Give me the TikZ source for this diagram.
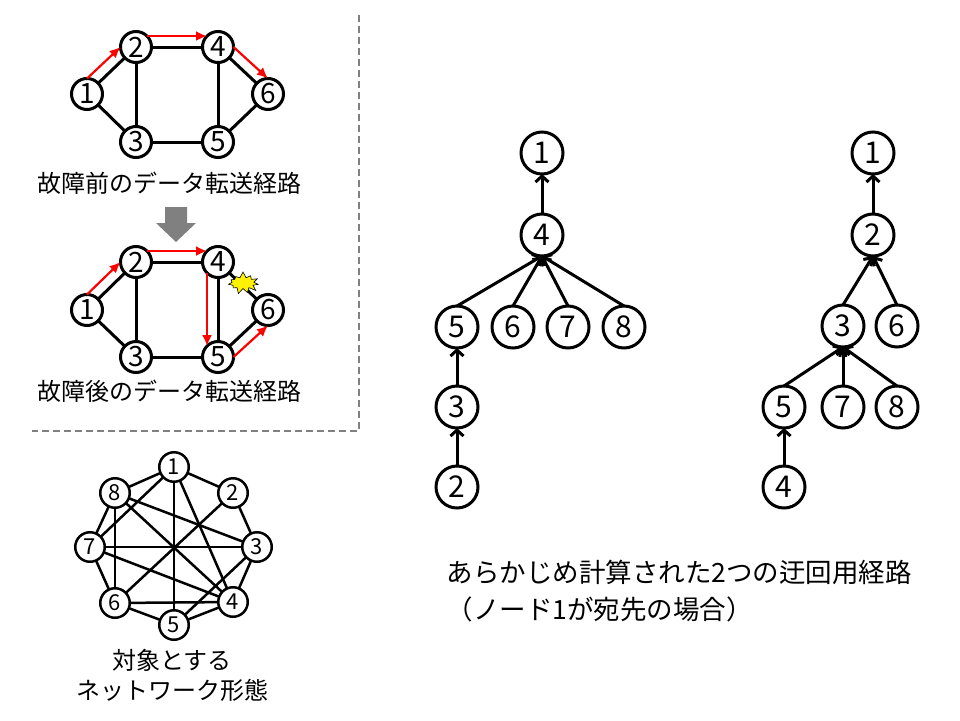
\documentclass[tikz,border=0pt]{standalone}
\usepackage{fontspec}
\setmainfont{Noto Sans CJK JP}
\usepackage{tkz-graph}
\usetikzlibrary{arrows.meta,shapes.symbols}

\definecolor{SepGray}{RGB}{128,128,128}

\begin{document}
\begin{tikzpicture}[x=1pt,y=-1pt]
\useasboundingbox (0,0) rectangle (960,720);
\tikzset{VertexStyle/.style = {draw,circle,fill=white,line width=3pt,
                               minimum size=31pt,inner sep=0pt,
                               font=\fontsize{28pt}{28pt}\selectfont},
         EdgeStyle/.style = {line width=3pt,black},
         RouteArrow/.style = {red,line width=2.2pt,-{Latex[length=11pt,width=10pt]}},
         TreeArrow/.style = {line width=3pt,-{Straight Barb[length=6pt,width=13pt]}},
         CaptionText/.style = {font=\fontsize{24pt}{30pt}\selectfont,align=center}}
\SetUpEdge[lw=3pt,color=black]
% before the failure
\Vertex[x = 87, y = 94, L = 1]{B1}   \Vertex[x = 136, y = 47, L = 2]{B2}
\Vertex[x = 136, y = 142, L = 3]{B3} \Vertex[x = 218, y = 47, L = 4]{B4}
\Vertex[x = 218, y = 142, L = 5]{B5} \Vertex[x = 268, y = 94, L = 6]{B6}
\Edges(B3,B1,B2,B4,B6,B5,B3,B2)
\Edges(B4,B5)
\draw[RouteArrow] (B1.north) -- (B2.west);
\draw[RouteArrow] (B2.north east) -- (B4.north west);
\draw[RouteArrow] (B4.east) -- (B6.north);
\node[CaptionText] (BeforeLabel) at (169,183) {故障前のデータ転送経路};
\fill[SepGray] (165,207) -- (187,207) -- (187,223) -- (196,223) -- (176,242)
  -- (156,223) -- (165,223) -- cycle;
% after the failure
\Vertex[x = 87, y = 310, L = 1]{F1}  \Vertex[x = 136, y = 262, L = 2]{F2}
\Vertex[x = 136, y = 357, L = 3]{F3} \Vertex[x = 218, y = 262, L = 4]{F4}
\Vertex[x = 218, y = 357, L = 5]{F5} \Vertex[x = 268, y = 310, L = 6]{F6}
\Edges(F3,F1,F2,F4,F6,F5,F3,F2)
\Edges(F4,F5)
\node[starburst,draw,fill=yellow,line width=0.6pt,starburst points=11,
      starburst point height=6pt,random starburst=7,minimum width=34pt,
      minimum height=23pt,inner sep=0pt] (Crash) at (243,283) {};
\draw[RouteArrow] (F1.north) -- (F2.west);
\draw[RouteArrow] (F2.north east) -- (F4.north west);
\draw[RouteArrow] (F4.south west) -- (F5.north west);
\draw[RouteArrow] (F5.east) -- (F6.south);
\node[CaptionText] (AfterLabel) at (169,391) {故障後のデータ転送経路};
\draw[SepGray,line width=2pt,dash pattern=on 7pt off 4pt]
  (359,15) -- (359,431) -- (32,431);
% network
\tikzset{VertexStyle/.append style = {line width=2.5pt,minimum size=29.5pt,
                                      font=\fontsize{22pt}{22pt}\selectfont}}
\SetUpEdge[lw=2.5pt,color=black]
\Vertex[x = 174, y = 467, L = 1]{N1} \Vertex[x = 233, y = 493, L = 2]{N2}
\Vertex[x = 257, y = 547, L = 3]{N3} \Vertex[x = 233, y = 602, L = 4]{N4}
\Vertex[x = 174, y = 625, L = 5]{N5} \Vertex[x = 115, y = 603, L = 6]{N6}
\Vertex[x = 90, y = 547, L = 7]{N7}  \Vertex[x = 115, y = 493, L = 8]{N8}
\Edges(N1,N2,N3,N4,N5,N6,N7,N8,N1)
\Edges(N7,N1,N5,N3,N8,N6,N2)
\Edges(N1,N4,N8)
\Edges(N3,N7,N4,N6)
\node[CaptionText] (NetLabel) at (172,675) {対象とする\\ネットワーク形態};
% precomputed trees
\tikzset{VertexStyle/.append style = {line width=3pt,minimum size=42pt,
                                      font=\fontsize{30pt}{30pt}\selectfont}}
\Vertex[x = 542, y = 153, L = 1]{P1} \Vertex[x = 542, y = 235, L = 4]{P4}
\Vertex[x = 457, y = 327, L = 5]{P5} \Vertex[x = 513, y = 327, L = 6]{P6}
\Vertex[x = 568, y = 327, L = 7]{P7} \Vertex[x = 624, y = 327, L = 8]{P8}
\Vertex[x = 457, y = 407, L = 3]{P3} \Vertex[x = 457, y = 487, L = 2]{P2}
\draw[TreeArrow] (P4.north) -- (P1.south);
\foreach \c in {5,6,7,8} \draw[TreeArrow] (P\c.north) -- (P4.south);
\draw[TreeArrow] (P3.north) -- (P5.south);
\draw[TreeArrow] (P2.north) -- (P3.south);
\Vertex[x = 873, y = 153, L = 1]{Q1} \Vertex[x = 873, y = 235, L = 2]{Q2}
\Vertex[x = 843, y = 326, L = 3]{Q3} \Vertex[x = 897, y = 326, L = 6]{Q6}
\Vertex[x = 784, y = 407, L = 5]{Q5} \Vertex[x = 843, y = 407, L = 7]{Q7}
\Vertex[x = 897, y = 407, L = 8]{Q8} \Vertex[x = 784, y = 487, L = 4]{Q4}
\draw[TreeArrow] (Q2.north) -- (Q1.south);
\foreach \c in {3,6} \draw[TreeArrow] (Q\c.north) -- (Q2.south);
\foreach \c in {5,7,8} \draw[TreeArrow] (Q\c.north) -- (Q3.south);
\draw[TreeArrow] (Q4.north) -- (Q5.south);
\node[anchor=west,align=left,font=\fontsize{26.5pt}{37pt}\selectfont]
  (RouteLabel) at (443,591) {あらかじめ計算された2つの迂回用経路\\（ノード1が宛先の場合）};
\end{tikzpicture}
\end{document}
